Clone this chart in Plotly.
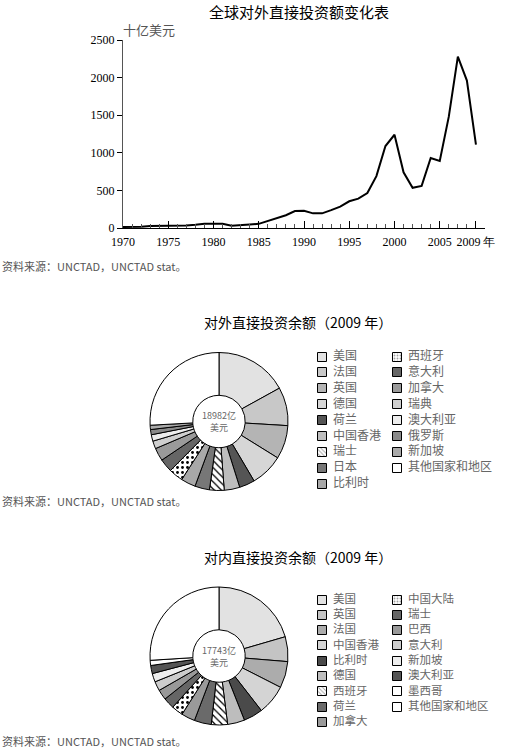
import plotly.graph_objects as go

# ---------------- data ----------------
years = list(range(1970, 2010))
fdi_outflow = [14, 14, 16, 27, 26, 28, 30, 33, 42, 55,
               58, 55, 30, 34, 45, 55, 90, 130, 170, 225,
               228, 195, 195, 238, 285, 355, 390, 465, 690, 1090,
               1240, 740, 535, 560, 930, 890, 1480, 2280, 1960, 1110]
x_tick_vals = [1970, 1975, 1980, 1985, 1990, 1995, 2000, 2005, 2009]
x_tick_text = ["1970", "1975", "1980", "1985", "1990", "1995", "2000", "2005", "2009 年"]
y_tick_vals = [0, 500, 1000, 1500, 2000, 2500]

out_labels = ["美国", "法国", "英国", "德国", "荷兰", "中国香港", "瑞士", "日本", "比利时",
              "西班牙", "意大利", "加拿大", "瑞典", "澳大利亚", "俄罗斯", "新加坡", "其他国家和地区"]
out_values = [16.8, 8.9, 7.8, 7.6, 3.6, 3.6, 3.4, 3.4, 3.4,
              3.3, 3.1, 3.0, 1.8, 1.5, 1.2, 1.0, 25.6]
in_labels = ["美国", "英国", "法国", "中国香港", "比利时", "德国", "西班牙", "荷兰", "加拿大",
             "中国大陆", "瑞士", "巴西", "意大利", "新加坡", "澳大利亚", "墨西哥", "其他国家和地区"]
in_values = [20.5, 5.8, 6.2, 7.0, 4.5, 4.0, 3.8, 4.0, 3.2,
             2.7, 2.6, 2.4, 2.2, 2.0, 1.9, 1.2, 26.0]
out_total = "18982亿<br>美元"
in_total = "17743亿<br>美元"

# ---------------- styles ----------------
out_colors = ["#e2e2e2", "#c8c8c8", "#b4b4b4", "#d6d6d6", "#555555", "#bdbdbd", "#ffffff", "#777777", "#a8a8a8",
              "#ffffff", "#666666", "#9a9a9a", "#cfcfcf", "#ededed", "#8a8a8a", "#aaaaaa", "#ffffff"]
out_patterns = ["", "", "", "", "", "", "\\", "", "", ".", "", "", "", "", "", "", ""]
in_colors = ["#e2e2e2", "#c4c4c4", "#acacac", "#d4d4d4", "#4a4a4a", "#bdbdbd", "#ffffff", "#6a6a6a", "#9a9a9a",
             "#ffffff", "#666666", "#999999", "#cccccc", "#eeeeee", "#555555", "#ffffff", "#ffffff"]
in_patterns = ["", "", "", "", "", "", "\\", "", "", ".", "", "", "", "", "", "", ""]

W, H = 510, 751
def px(x):
    return x / W
def py(y):
    return 1 - y / H

CJK = "Noto Sans CJK SC"
SERIF = "Liberation Serif"
TXT_GRAY = "#555555"

fig = go.Figure()

# line chart
fig.add_trace(go.Scatter(x=years, y=fdi_outflow, mode="lines",
                         line=dict(color="black", width=2), showlegend=False,
                         xaxis="x", yaxis="y", hoverinfo="x+y"))

# donuts
def donut(labels, values, colors, patterns, dom):
    return go.Pie(labels=labels, values=values, sort=False, direction="clockwise",
                  rotation=0, hole=0.38, textinfo="none", hoverinfo="label+percent",
                  showlegend=False, domain=dom,
                  marker=dict(colors=colors, line=dict(color="black", width=1),
                              pattern=dict(shape=patterns, fgcolor="black", bgcolor="white",
                                           size=5, solidity=0.25)))

fig.add_trace(donut(out_labels, out_values, out_colors, out_patterns,
                    dict(x=[px(150), px(288)], y=[py(491), py(352)])))
fig.add_trace(donut(in_labels, in_values, in_colors, in_patterns,
                    dict(x=[px(150), px(288)], y=[py(727), py(585)])))

# hand-built two-column legends on an overlay axis measured in page pixels
SQ = 9
def legend_block(labels, colors, patterns, top, step, fsize, split=9, col_x=(322, 397)):
    xs, ys = [], []
    for i in range(len(labels)):
        c = 0 if i < split else 1
        r = i if i < split else i - split
        xs.append(col_x[c])
        ys.append(top + r * step)
    fig.add_trace(go.Bar(x=xs, y=[SQ] * len(xs), base=[y - SQ / 2 for y in ys], width=SQ,
                         xaxis="x3", yaxis="y3", showlegend=False, hoverinfo="skip",
                         marker=dict(color=colors, line=dict(color="black", width=1),
                                     pattern=dict(shape=patterns, fgcolor="black", bgcolor="white",
                                                  size=3, solidity=0.3))))
    fig.add_trace(go.Scatter(x=[x + 11 for x in xs], y=ys, text=labels, mode="text",
                             textposition="middle right", xaxis="x3", yaxis="y3",
                             showlegend=False, hoverinfo="skip",
                             textfont=dict(family=CJK, size=fsize, color="#666666")))

legend_block(out_labels, out_colors, out_patterns, 357, 15.9, 12)
legend_block(in_labels, in_colors, in_patterns, 600, 15.3, 11.5)

def ann(text, x, y, size, color, xanchor="center"):
    return dict(text=text, x=px(x), y=py(y), xref="paper", yref="paper", xanchor=xanchor,
                yanchor="middle", showarrow=False, font=dict(family=CJK, size=size, color=color))

annotations = [
    ann("全球对外直接投资额变化表", 299, 11, 15, "black"),
    ann("十亿美元", 121, 30, 13, TXT_GRAY, "left"),
    ann("资料来源：UNCTAD，UNCTAD stat。", 0, 266, 11, TXT_GRAY, "left"),
    ann("对外直接投资余额（2009 年）", 298, 322, 14, "black"),
    ann(out_total, 219, 421, 9, "#666666"),
    ann("资料来源：UNCTAD，UNCTAD stat。", 0, 501, 11, TXT_GRAY, "left"),
    ann("对内直接投资余额（2009 年）", 298, 557, 14, "black"),
    ann(in_total, 219, 656, 9, "#666666"),
    ann("资料来源：UNCTAD，UNCTAD stat。", 0, 741, 11, TXT_GRAY, "left"),
]

fig.update_layout(
    width=W, height=H, margin=dict(l=0, r=0, t=0, b=0, autoexpand=False),
    paper_bgcolor="white", plot_bgcolor="rgba(0,0,0,0)",
    showlegend=False, bargap=0, barmode="overlay",
    xaxis=dict(domain=[px(123), px(485)], range=[1970, 2010], tickmode="array",
               tickvals=x_tick_vals, ticktext=x_tick_text, ticks="inside", ticklen=7,
               tickcolor="black", showline=True, linecolor="black", linewidth=1,
               showgrid=False, zeroline=False, ticklabelstandoff=3,
               minor=dict(ticks="inside", dtick=1, tick0=1970, ticklen=4, tickcolor="#555555", showgrid=False),
               tickfont=dict(family=SERIF, size=12, color="black")),
    yaxis=dict(domain=[py(228), py(40)], range=[0, 2500], tickvals=y_tick_vals,
               ticks="outside", ticklen=5, tickcolor="black", showline=True, linecolor="#555555",
               linewidth=1, showgrid=False, zeroline=False,
               tickfont=dict(family=SERIF, size=12, color="black")),
    xaxis3=dict(domain=[0, 1], range=[0, W], visible=False, fixedrange=True),
    yaxis3=dict(domain=[0, 1], range=[H, 0], visible=False, fixedrange=True),
    annotations=annotations,
)

fig.write_html("out.html")
